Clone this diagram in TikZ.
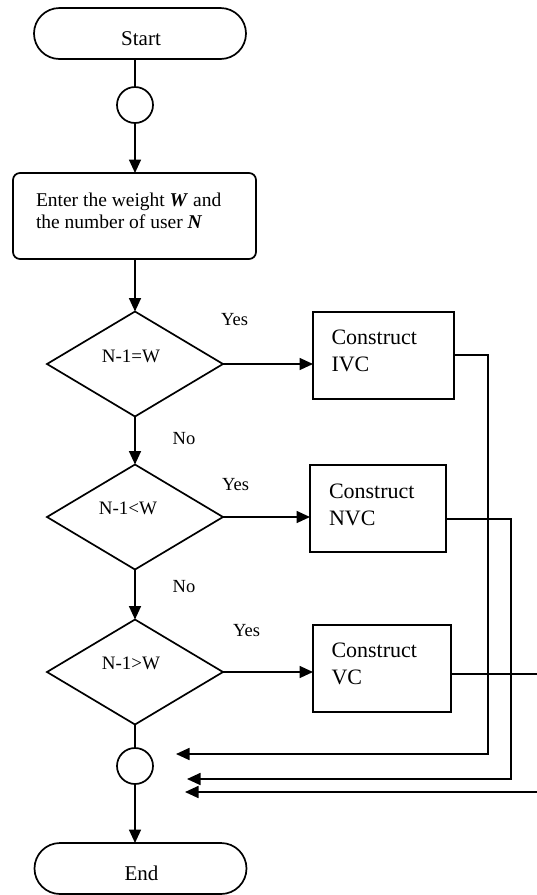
\documentclass[tikz,border=0pt]{standalone}
\usepackage{fontspec}
\setmainfont{Liberation Serif}
\usetikzlibrary{arrows.meta,shapes.geometric,shapes.misc}
\begin{document}
\begin{tikzpicture}[x=1pt,y=-1pt,
  line width=1.7pt,
  every node/.style={inner sep=0pt, outer sep=0pt},
  term/.style={draw, rounded rectangle, minimum width=212pt, minimum height=51pt},
  conn/.style={draw, circle, minimum size=36pt},
  dec/.style={draw, diamond, minimum width=176pt, minimum height=105pt},
  procbox/.style={draw, rectangle, minimum height=87pt},
  termtxt/.style={font=\fontsize{21}{25}\selectfont},
  dectxt/.style={font=\fontsize{19}{23}\selectfont},
  boxtxt/.style={anchor=west, align=left, font=\fontsize{22}{27}\selectfont},
  lbl/.style={anchor=base, font=\fontsize{18.5}{22}\selectfont},
  arr/.style={-{Triangle[length=13.5pt,width=12pt]}}
]
\useasboundingbox (0,0) rectangle (537,895);

% terminals
\node[term] (start) at (140,33.5) {};
\node[termtxt, anchor=base] (startt) at (141,45) {Start};
\node[term] (end) at (140.5,868.5) {};
\node[termtxt, anchor=base] (endt) at (141.5,880) {End};

% connectors
\node[conn] (c1) at (135,105) {};
\node[conn] (c2) at (135,766) {};

% input box
\node[draw, rectangle, rounded corners=7pt, minimum width=243pt, minimum height=86pt] (enter) at (134.5,216) {};
\node[anchor=west, align=left, font=\fontsize{19.5}{22}\selectfont] (entert) at (36,211)
  {Enter the weight \textbf{\textit{W}} and\\the number of user \textbf{\textit{N}}};

% decisions
\node[dec] (d1) at (135,364) {};
\node[dectxt] (d1t) at (131,356) {N-1=W};
\node[dec] (d2) at (135,517) {};
\node[dectxt] (d2t) at (128,508) {N-1<W};
\node[dec] (d3) at (135,672) {};
\node[dectxt] (d3t) at (131,663) {N-1>W};

% process boxes
\node[procbox, minimum width=141pt] (ivc) at (383.5,355.5) {};
\node[boxtxt] (ivct) at (331.5,351) {Construct\\IVC};
\node[procbox, minimum width=136pt] (nvc) at (378,508.5) {};
\node[boxtxt] (nvct) at (329,505) {Construct\\NVC};
\node[procbox, minimum width=138pt] (vc) at (382,668.5) {};
\node[boxtxt] (vct) at (331.5,664) {Construct\\VC};

% labels
\node[lbl] (y1) at (234.5,325.5) {Yes};
\node[lbl] (y2) at (235.5,490) {Yes};
\node[lbl] (y3) at (246.5,636.5) {Yes};
\node[lbl] (n1) at (184,444) {No};
\node[lbl] (n2) at (184,592) {No};

% main flow
\draw (c1 |- start.south) -- (c1.north);
\draw[arr] (c1.south) -- (c1 |- enter.north);
\draw[arr] (c1 |- enter.south) -- (d1.north);
\draw[arr] (d1.south) -- (d2.north);
\draw[arr] (d2.south) -- (d3.north);
\draw (d3.south) -- (c2.north);
\draw[arr] (c2.south) -- (c2 |- end.north);

% yes branches
\draw[arr] (d1.east) -- (d1.east -| ivc.west);
\draw[arr] (d2.east) -- (d2.east -| nvc.west);
\draw[arr] (d3.east) -- (d3.east -| vc.west);

% return lines
\coordinate (ra) at (488,355);
\coordinate (rb) at (488,754);
\coordinate (rc) at (176,754);
\draw[arr] (ivc.east |- ra) -- (ra) -- (rb) -- (rc);

\coordinate (sa) at (511,519);
\coordinate (sb) at (511,779);
\coordinate (sc) at (187,779);
\draw[arr] (nvc.east |- sa) -- (sa) -- (sb) -- (sc);

\coordinate (ta) at (537,674);
\draw (vc.east |- ta) -- (ta);
\coordinate (ua) at (537,792);
\coordinate (ub) at (185,792);
\draw[arr] (ua) -- (ub);
\end{tikzpicture}
\end{document}
